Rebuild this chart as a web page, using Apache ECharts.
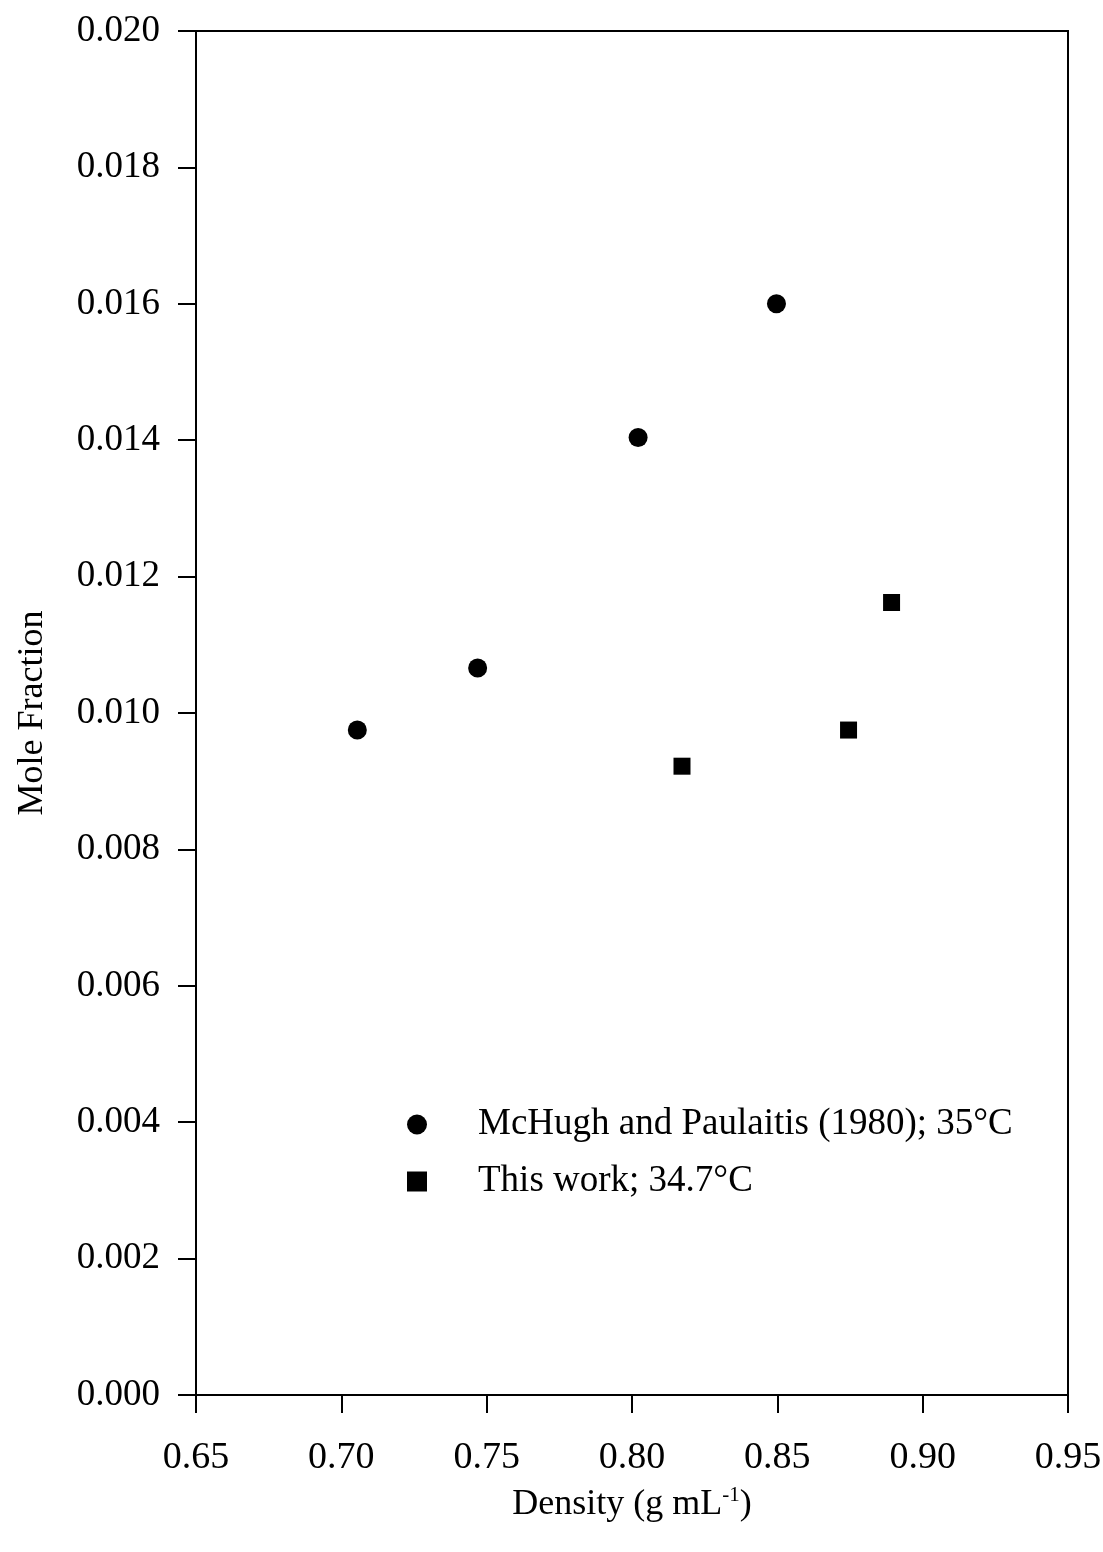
<!DOCTYPE html>
<html>
<head>
<meta charset="utf-8">
<script src="https://cdn.jsdelivr.net/npm/echarts@6/dist/echarts.min.js"></script>
<style>
html,body{margin:0;padding:0;background:#fff;}
#chart{width:1103px;height:1552px;}
</style>
</head>
<body>
<div id="chart"></div>
<script>
// Data
var mchughDensity = [0.7055, 0.7469, 0.8021, 0.8497];
var mchughMoleFraction = [0.00975, 0.01066, 0.01404, 0.01600];
var thisWorkDensity = [0.8172, 0.8745, 0.8893];
var thisWorkMoleFraction = [0.00922, 0.00975, 0.01162];
var seriesNames = ['McHugh and Paulaitis (1980); 35°C', 'This work; 34.7°C'];
var xAxisTitle = 'Density (g mL{sup|-1})';
var yAxisTitle = 'Mole Fraction';

function pairs(xs, ys) { return xs.map(function (x, i) { return [x, ys[i]]; }); }

var font = 'Liberation Serif, Times New Roman, serif';
var chart = echarts.init(document.getElementById('chart'), null, {renderer: 'canvas'});
chart.setOption({
  backgroundColor: '#fff',
  animation: false,
  textStyle: {fontFamily: font, color: '#000'},
  grid: {left: 196, right: 35, top: 31, bottom: 157, show: true, borderColor: '#000', borderWidth: 2,
    backgroundColor: 'transparent', containLabel: false, outerBoundsMode: 'none'},
  legend: {
    orient: 'vertical', left: 402, top: 1101,
    itemWidth: 20, itemHeight: 20, itemGap: 20,
    textStyle: {fontFamily: font, fontSize: 37, color: '#000', padding: [0, 0, 0, 46]},
    data: seriesNames
  },
  xAxis: {
    type: 'value', min: 0.65, max: 0.95, interval: 0.05,
    name: xAxisTitle, nameLocation: 'middle', nameGap: 90,
    nameTextStyle: {fontFamily: font, fontSize: 36, color: '#000',
      rich: {sup: {fontFamily: font, fontSize: 21, color: '#000', padding: [0, 0, 18, 0]}}},
    axisLine: {show: true, lineStyle: {color: '#000', width: 2}},
    axisTick: {show: true, inside: false, length: 18, lineStyle: {color: '#000', width: 2}},
    axisLabel: {fontFamily: font, fontSize: 38, color: '#000', margin: 44,
      formatter: function (v) { return v.toFixed(2); }},
    splitLine: {show: false}
  },
  yAxis: {
    type: 'value', min: 0, max: 0.02, interval: 0.002,
    name: yAxisTitle, nameLocation: 'middle', nameGap: 145, nameRotate: 90,
    nameTextStyle: {fontFamily: font, fontSize: 36, color: '#000'},
    axisLine: {show: true, lineStyle: {color: '#000', width: 2}},
    axisTick: {show: true, inside: false, length: 18, lineStyle: {color: '#000', width: 2}},
    axisLabel: {fontFamily: font, fontSize: 37, color: '#000', margin: 36,
      formatter: function (v) { return v.toFixed(3); }},
    splitLine: {show: false}
  },
  series: [
    {name: seriesNames[0], type: 'scatter', symbol: 'circle', symbolSize: 19,
     itemStyle: {color: '#000', opacity: 1}, data: pairs(mchughDensity, mchughMoleFraction)},
    {name: seriesNames[1], type: 'scatter', symbol: 'rect', symbolSize: 17,
     itemStyle: {color: '#000', opacity: 1}, data: pairs(thisWorkDensity, thisWorkMoleFraction)}
  ]
});
</script>
</body>
</html>
